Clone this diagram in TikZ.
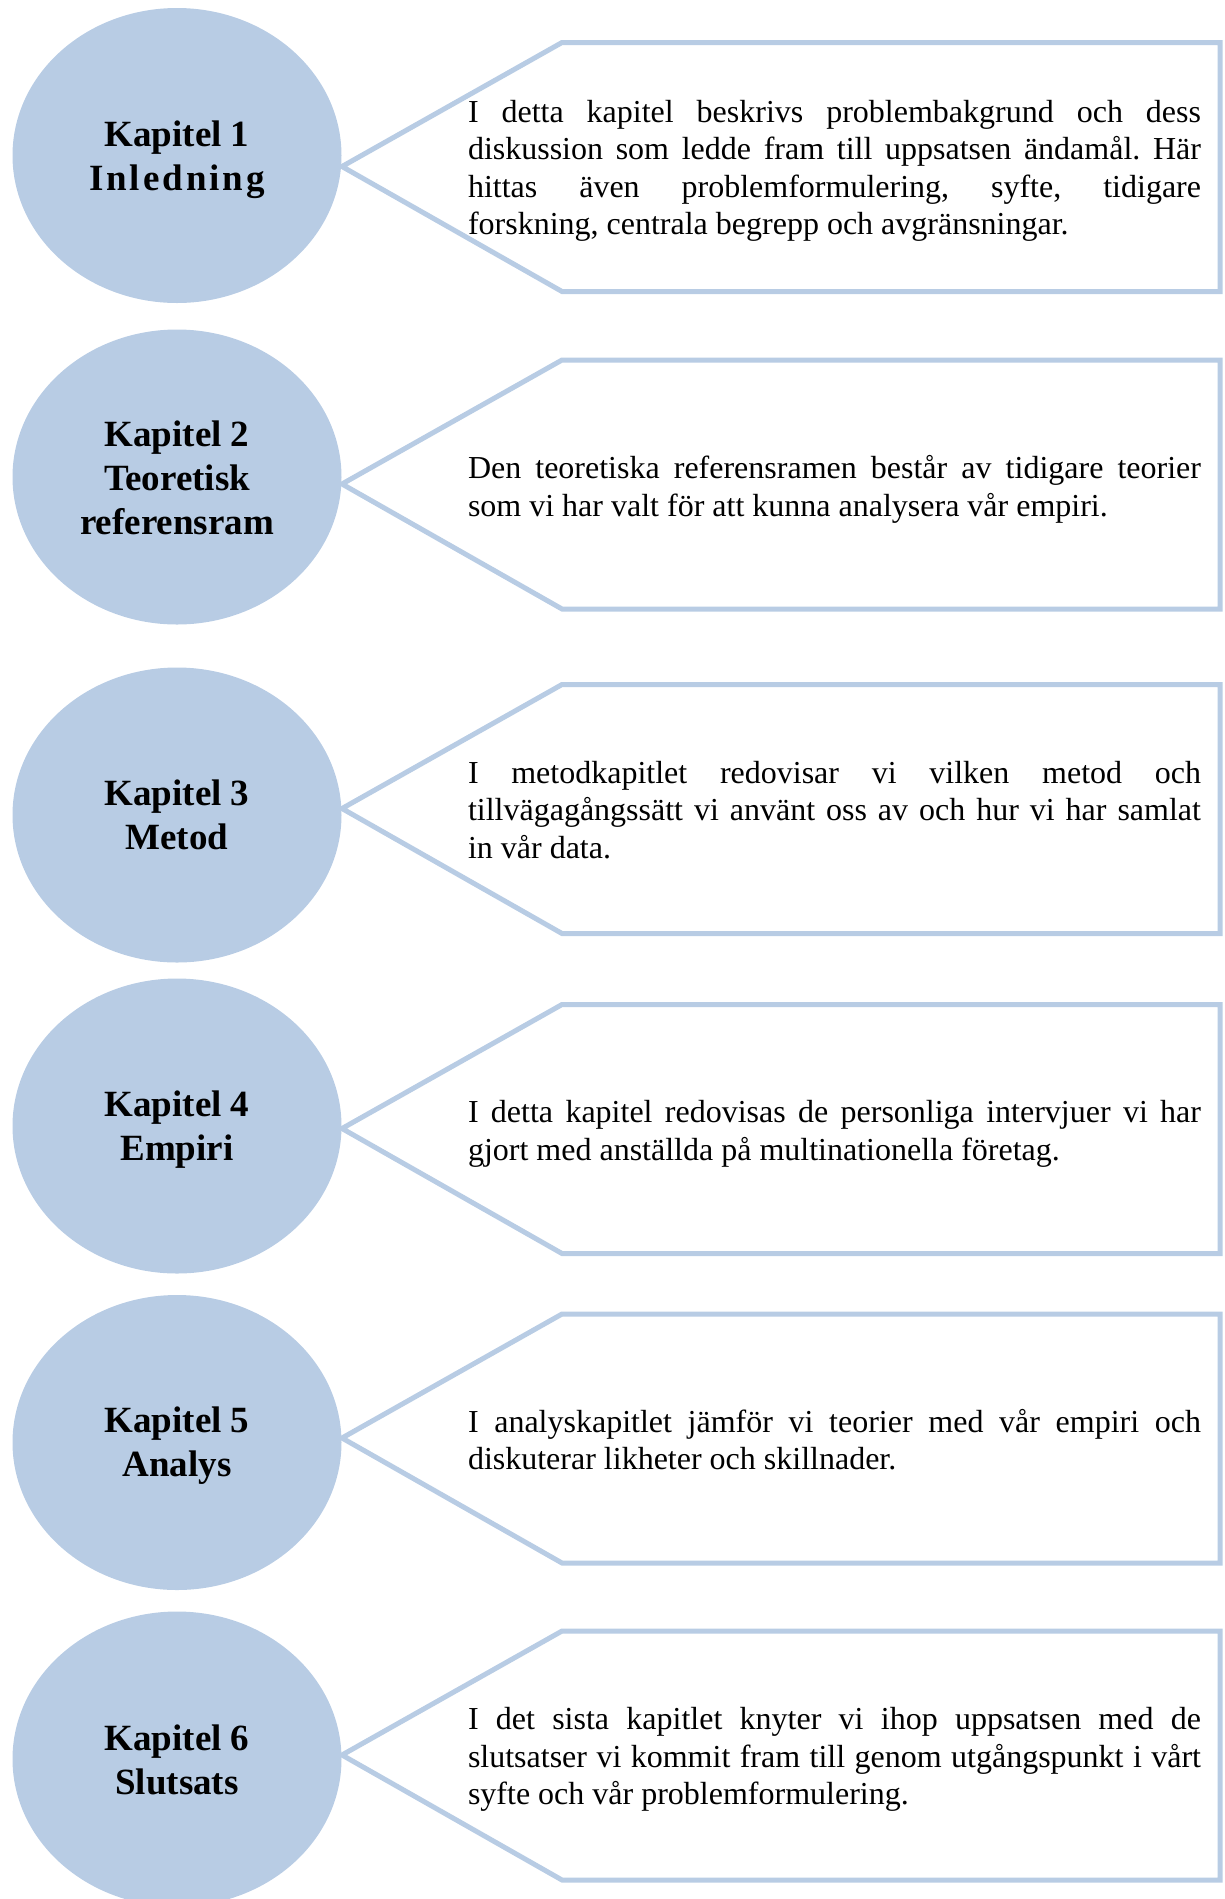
\documentclass[tikz,border=0pt]{standalone}
\usepackage{fontspec}
\setmainfont{Liberation Serif}
\usetikzlibrary{shapes.geometric}
\definecolor{kapitelblue}{RGB}{184,204,228}
\newcommand{\titelfont}{\fontsize{37}{44}\selectfont\bfseries}
\newcommand{\brodfont}{\fontsize{32}{37.5}\selectfont\frenchspacing\hyphenpenalty=10000\tolerance=10000\hbadness=10000}

\begin{document}
\begin{tikzpicture}[x=1pt, y=-1pt,
    kapitel/.style={ellipse, fill=kapitelblue, minimum width=329pt, minimum height=295pt,
                    inner sep=0pt, font=\titelfont, align=center},
    beskrivning/.style={text width=733pt, align=justify, inner sep=0pt, font=\brodfont},
    ram/.style={draw=kapitelblue, line width=5pt, fill=white}]
    \useasboundingbox (0,0) rectangle (1225,1899);
    \clip (0,0) rectangle (1225,1899);
    % Pentagon frames, tip against the ellipse
    \foreach \y in {166.5,484,808.5,1128.5,1438,1755} {
        \draw[ram] (342,\y) -- ++(220,-124) -- ++(658,0) -- ++(0,249) -- ++(-658,0) -- cycle;
    }
    % Chapter ellipses
    \node[kapitel] (k1) at (177,155.5) {};
    \node[kapitel] (k2) at (177,477) {};
    \node[kapitel] (k3) at (177,815) {};
    \node[kapitel] (k4) at (177,1126) {};
    \node[kapitel] (k5) at (177,1442.5) {};
    \node[kapitel] (k6) at (177,1759) {};
    % Titles, close to the ellipse centre
    \node[font=\titelfont, align=center] (t1) at ([yshift=-4.5pt]k1) {Kapitel 1\\{\addfontfeature{LetterSpace=8}Inledning}};
    \node[font=\titelfont, align=center] (t2) at ([yshift=-1pt]k2) {Kapitel 2\\Teoretisk\\referensram};
    \node[font=\titelfont, align=center] (t3) at (k3) {Kapitel 3\\Metod};
    \node[font=\titelfont, align=center] (t4) at ([yshift=-3.5pt]k4) {Kapitel 4\\Empiri};
    \node[font=\titelfont, align=center] (t5) at ([yshift=-3.5pt]k5) {Kapitel 5\\Analys};
    \node[font=\titelfont, align=center] (t6) at ([yshift=-1pt]k6) {Kapitel 6\\Slutsats};
    % Descriptions
    \node[beskrivning] (b1) at (834.5,171) {I detta kapitel beskrivs problembakgrund och dess\linebreak
        diskussion som ledde fram till uppsatsen ändamål. Här\linebreak
        hittas även problemformulering, syfte, tidigare\linebreak
        forskning, centrala begrepp och avgränsningar.};
    \node[beskrivning] (b2) at (834.5,489.5) {Den teoretiska referensramen består av tidigare teorier\linebreak
        som vi har valt för att kunna analysera vår empiri.};
    \node[beskrivning] (b3) at (834.5,810) {I metodkapitlet redovisar vi vilken metod och\linebreak
        tillvägagångssätt vi använt oss av och hur vi har samlat\linebreak
        in vår data.};
    \node[beskrivning] (b4) at (834.5,1134) {I detta kapitel redovisas de personliga intervjuer vi har\linebreak
        gjort med anställda på multinationella företag.};
    \node[beskrivning] (b5) at (834.5,1439.5) {I analyskapitlet jämför vi teorier med vår empiri och\linebreak
        diskuterar likheter och skillnader.};
    \node[beskrivning] (b6) at (834.5,1759.5) {I det sista kapitlet knyter vi ihop uppsatsen med de\linebreak
        slutsatser vi kommit fram till genom utgångspunkt i vårt\linebreak
        syfte och vår problemformulering.};
\end{tikzpicture}
\end{document}
